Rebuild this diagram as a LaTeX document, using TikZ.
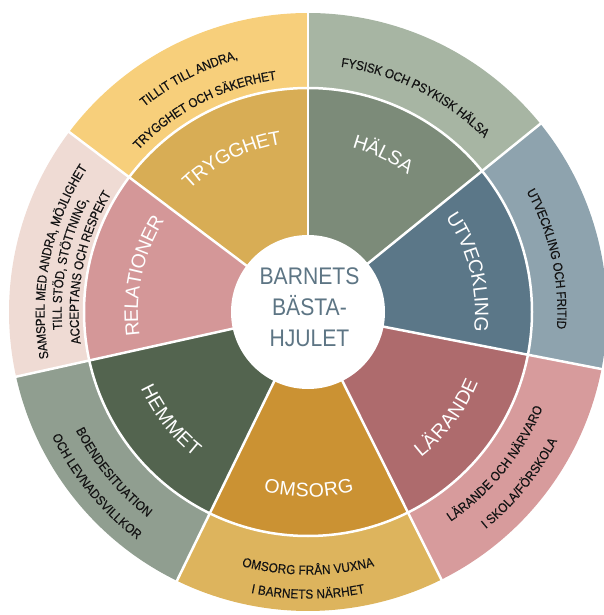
\documentclass[tikz,border=0pt]{standalone}
\usepackage{fontspec}
\setmainfont{Liberation Sans}
\newfontfamily\narrowsans[FakeStretch=0.9,FakeBold=0.3]{Liberation Sans}
\newfontfamily\hubsans[FakeStretch=0.88]{Liberation Sans}
\usetikzlibrary{decorations.text}

\definecolor{tryggIn}{HTML}{D8AD55}
\definecolor{tryggOut}{HTML}{F7CF7B}
\definecolor{halsaIn}{HTML}{7C8B79}
\definecolor{halsaOut}{HTML}{A7B5A3}
\definecolor{utvIn}{HTML}{5B7788}
\definecolor{utvOut}{HTML}{8EA3AE}
\definecolor{larIn}{HTML}{AE6B6D}
\definecolor{larOut}{HTML}{D79B9C}
\definecolor{omsIn}{HTML}{CB9233}
\definecolor{omsOut}{HTML}{DDB45D}
\definecolor{hemIn}{HTML}{53644F}
\definecolor{hemOut}{HTML}{909E90}
\definecolor{relIn}{HTML}{D49798}
\definecolor{relOut}{HTML}{EFDBD4}
\definecolor{hubBlue}{HTML}{5D7584}

\def\innerfont{\fontsize{19.5}{22}\selectfont}
\def\outerfont{\narrowsans\fontsize{13}{15}\selectfont}

% text on an arc round the hub: angle, radius, text
\newcommand{\cwlabel}[3]{%
  \path[decorate,decoration={text={#3}}] (#1+35:#2pt) arc[start angle=#1+35, end angle=#1-35, radius=#2pt];}
\newcommand{\ccwlabel}[3]{%
  \path[decorate,decoration={text={#3}}] (#1-35:#2pt) arc[start angle=#1-35, end angle=#1+35, radius=#2pt];}

\tikzset{
  divider/.style={draw=white,line width=2.5pt},
  innerlbl/.style={decoration={text along path,text align=center,text color=white,raise=-7pt}},
  outerlbl/.style={decoration={text along path,text align=center,text color=black!92,raise=-4.6pt}},
}

\begin{document}
\begin{tikzpicture}[x=1pt,y=1pt]
  \useasboundingbox (-308,-303) rectangle (295,312);

  % sectors: from / to / inner colour / outer colour
  \foreach \a/\b/\cin/\cout in {
    90/143/tryggIn/tryggOut,
    143/192.5/relIn/relOut,
    192.5/244/hemIn/hemOut,
    244/296.5/omsIn/omsOut,
    296.5/349/larIn/larOut,
    349/399/utvIn/utvOut,
    399/450/halsaIn/halsaOut}
  {
    \fill[\cout] (0,0) -- (\a:299) arc[start angle=\a, end angle=\b, radius=299pt] -- cycle;
    \fill[\cin] (0,0) -- (\a:224) arc[start angle=\a, end angle=\b, radius=224pt] -- cycle;
  }

  \foreach \a in {90,143,192.5,244,296.5,349,39}
    \draw[divider] (0,0) -- (\a:302);
  \draw[divider] (0,0) circle[radius=224pt];
  \fill[white] (0,0) circle[radius=77pt];

  \node[align=center,text=hubBlue,font=\hubsans\fontsize{24}{31}\selectfont] (hub) at (1.5,5) {BARNETS\\BÄSTA-\\HJULET};

  % inner ring
  \begin{scope}[innerlbl]
    \cwlabel{116.5}{177}{|\innerfont|TRYGGHET}
    \cwlabel{64.5}{177}{|\innerfont|HÄLSA}
    \cwlabel{14}{174}{|\innerfont|UTVECKLING}
    \ccwlabel{322.75}{177}{|\innerfont|LÄRANDE}
    \ccwlabel{270.25}{178}{|\innerfont|OMSORG}
    \ccwlabel{218.25}{177}{|\innerfont|HEMMET}
    \cwlabel{167.75}{177}{|\innerfont|RELATIONER}
  \end{scope}

  % outer ring
  \begin{scope}[outerlbl]
    \cwlabel{117}{267}{|\outerfont|TILLIT TILL ANDRA,}
    \cwlabel{117}{239}{|\outerfont|TRYGGHET OCH SÄKERHET}
    \cwlabel{63.5}{252}{|\outerfont|FYSISK OCH PSYKISK HÄLSA}
    \cwlabel{12.5}{254}{|\outerfont|UTVECKLING OCH FRITID}
    \ccwlabel{321}{249}{|\outerfont|LÄRANDE OCH NÄRVARO}
    \ccwlabel{321}{276}{|\outerfont|I SKOLA/FÖRSKOLA}
    \ccwlabel{270}{258}{|\outerfont|OMSORG FRÅN VUXNA}
    \ccwlabel{270}{282}{|\outerfont|I BARNETS NÄRHET}
    \ccwlabel{219.5}{256}{|\outerfont|BOENDESITUATION}
    \ccwlabel{219.5}{280}{|\outerfont|OCH LEVNADSVILLKOR}
    \cwlabel{168.5}{268}{|\outerfont|SAMSPEL MED ANDRA, MÖJLIGHET}
    \cwlabel{168.5}{251}{|\outerfont|TILL STÖD, STÖTTNING,}
    \cwlabel{168.5}{234}{|\outerfont|ACCEPTANS OCH RESPEKT}
  \end{scope}
\end{tikzpicture}
\end{document}
